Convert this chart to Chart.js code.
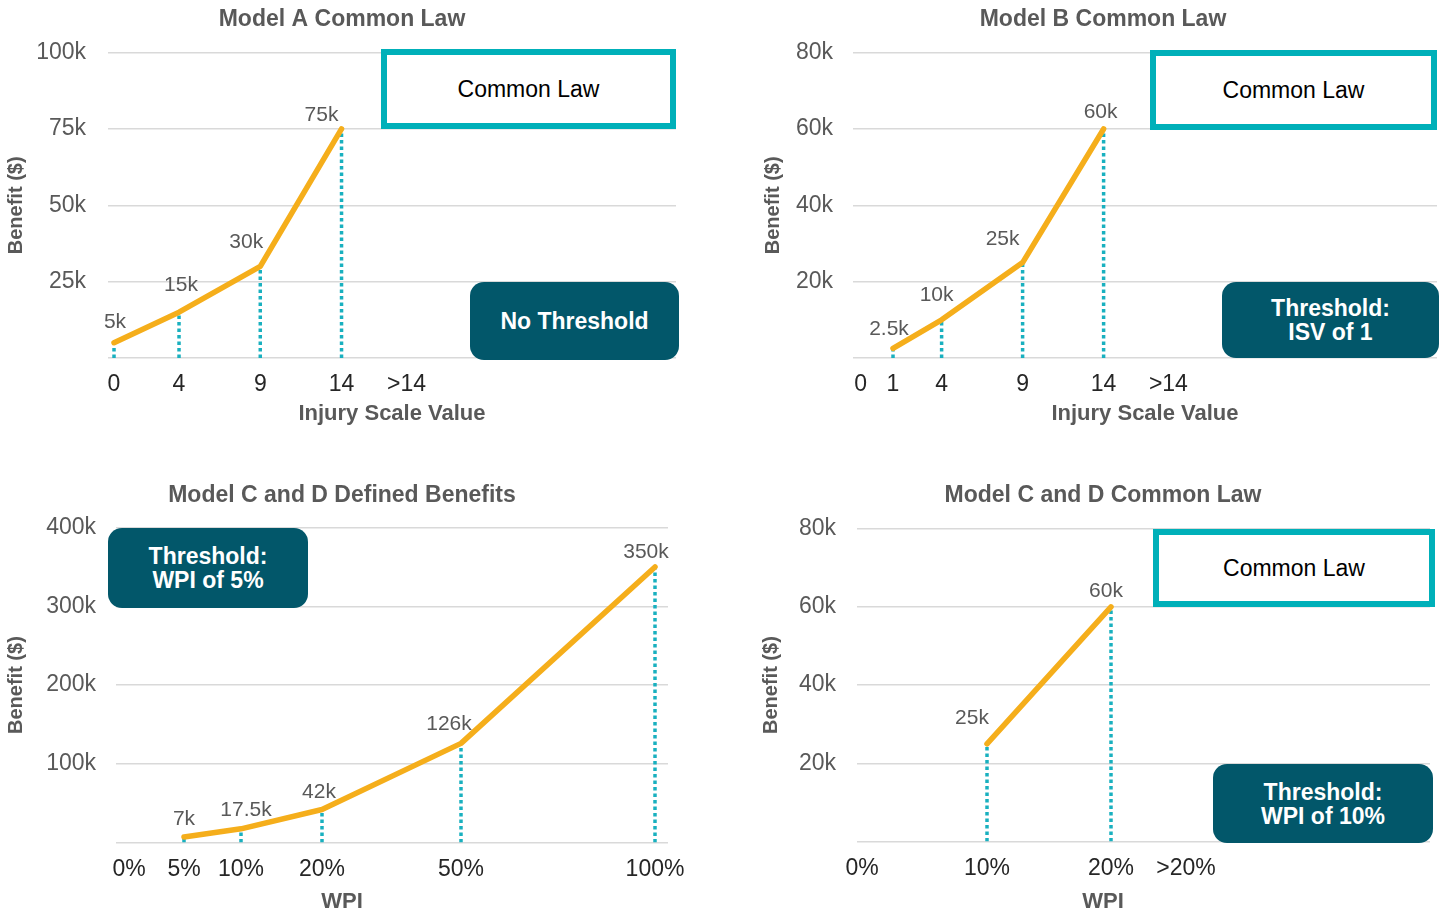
<!DOCTYPE html>
<html>
<head>
<meta charset="utf-8">
<title>Benefit models</title>
<script src="https://cdn.jsdelivr.net/npm/chart.js@4.4.1/dist/chart.umd.min.js"></script>
<style>
  body { margin: 0; background: #fff; font-family: 'Liberation Sans', Arial, sans-serif; }
  #page { position: relative; width: 1445px; height: 915px; overflow: hidden; }
  #page canvas { position: absolute; }
  .law {
    position: absolute; box-sizing: border-box; border: 6px solid #00b0b9; background: #fff;
    color: #000; font-size: 23px; display: flex; align-items: center; justify-content: center;
  }
  .thr {
    position: absolute; box-sizing: border-box; background: #02576a; color: #fff;
    font-weight: bold; font-size: 23px; line-height: 24px; border-radius: 14px;
    display: flex; align-items: center; justify-content: center; text-align: center;
  }
</style>
</head>
<body>
<div id="page">
  <canvas id="chartA" width="684" height="440" style="left:0px;top:0px"></canvas>
  <canvas id="chartB" width="684" height="440" style="left:761px;top:0px"></canvas>
  <canvas id="chartC" width="700" height="445" style="left:0px;top:470px"></canvas>
  <canvas id="chartD" width="685" height="445" style="left:760px;top:470px"></canvas>

  <div class="law" style="left:381px;top:49px;width:295px;height:80px">Common Law</div>
  <div class="thr" style="left:470px;top:282px;width:209px;height:78px">No Threshold</div>
  <div class="law" style="left:1150px;top:50px;width:287px;height:80px">Common Law</div>
  <div class="thr" style="left:1222px;top:282px;width:217px;height:76px">Threshold:<br>ISV of 1</div>
  <div class="thr" style="left:108px;top:528px;width:200px;height:80px">Threshold:<br>WPI of 5%</div>
  <div class="law" style="left:1153px;top:529px;width:282px;height:78px">Common Law</div>
  <div class="thr" style="left:1213px;top:764px;width:220px;height:79px">Threshold:<br>WPI of 10%</div>
</div>

<script>
// Model A common law: benefit by injury scale value
const aLabels = ['0', '4', '9', '14', '>14'];
const aBenefit = [5000, 15000, 30000, 75000, null];

// Model B common law
const bLabels = ['0', '1', '4', '9', '14', '>14'];
const bBenefit = [null, 2500, 10000, 25000, 60000, null];

// Model C and D defined benefits, by WPI
const cLabels = ['0%', '5%', '10%', '20%', '50%', '100%'];
const cBenefit = [null, 7000, 17500, 42000, 126000, 350000];

// Model C and D common law
const dLabels = ['0%', '10%', '20%', '>20%'];
const dBenefit = [null, 25000, 60000, null];

const FONT = "'Liberation Sans', Arial, sans-serif";
const GREY = '#595959';
const ORANGE = '#f5ae1b';
const CYAN = '#19b0bf';

// small "5k" style labels over each point
const pointLabels = {
  id: 'pointLabels',
  afterDatasetsDraw(chart, args, opts) {
    const ctx = chart.ctx;
    const meta = chart.getDatasetMeta(0);
    const ds = chart.data.datasets[0];
    ctx.save();
    ctx.font = '21px ' + FONT;
    ctx.fillStyle = GREY;
    ctx.textAlign = 'center';
    ctx.textBaseline = 'middle';
    meta.data.forEach(function (pt, i) {
      const shift = opts.shift[i] || [0, -20];
      const v = ds.data[i].y;
      ctx.fillText(v / 1000 + 'k', pt.x + shift[0], pt.y + shift[1]);
    });
    ctx.restore();
  }
};

function makePanel(p) {
  const line = [];
  const drops = [];
  p.values.forEach(function (v, i) {
    if (v === null) return;
    line.push({ x: p.xAt[i], y: v });
    drops.push({
      data: [{ x: p.xAt[i], y: 0 }, { x: p.xAt[i], y: v }],
      borderColor: CYAN,
      borderWidth: 3.5,
      borderDash: [3.5, 3],
      pointRadius: 0
    });
  });

  const datasets = [{
    data: line,
    borderColor: ORANGE,
    borderWidth: 5.5,
    borderCapStyle: 'round',
    borderJoinStyle: 'round',
    pointRadius: 0,
    clip: false
  }].concat(drops);

  new Chart(document.getElementById(p.id), {
    type: 'line',
    data: { datasets: datasets },
    options: {
      responsive: false,
      animation: false,
      layout: { padding: { left: p.padLeft, right: p.padRight, top: 0, bottom: 0 } },
      plugins: {
        legend: { display: false },
        tooltip: { enabled: false },
        title: {
          display: true,
          text: p.title,
          color: GREY,
          font: { family: FONT, size: 23, weight: 'bold' },
          padding: p.titlePad
        },
        subtitle: {
          display: p.xTitleBelow,
          position: 'bottom',
          text: p.xTitle,
          color: GREY,
          font: { family: FONT, size: 22, weight: 'bold' },
          padding: { top: 4, bottom: 0 }
        },
        pointLabels: { shift: p.shift }
      },
      scales: {
        x: {
          type: 'linear',
          min: p.xMin,
          max: p.xMax,
          afterBuildTicks: function (s) {
            s.ticks = p.xAt.map(function (v) { return { value: v }; });
          },
          afterFit: function (s) {
            s.height = p.xHeight;
            s.paddingLeft = 0;
            s.paddingRight = 0;
          },
          ticks: {
            autoSkip: false,
            maxRotation: 0,
            color: '#262626',
            font: { family: FONT, size: 23 },
            padding: 5,
            callback: function (v, i) { return p.labels[i]; }
          },
          grid: { display: false },
          border: { display: false },
          title: {
            display: !p.xTitleBelow,
            text: p.xTitle,
            color: GREY,
            font: { family: FONT, size: 22, weight: 'bold' },
            padding: { top: 0, bottom: 13 }
          }
        },
        y: {
          min: 0,
          max: p.yMax,
          afterFit: function (s) {
            s.width = p.yWidth;
            s.paddingTop = 0;
            s.paddingBottom = 0;
          },
          ticks: {
            stepSize: p.yStep,
            color: GREY,
            font: { family: FONT, size: 23 },
            padding: p.yTickPad,
            callback: function (v) { return v === 0 ? '' : v / 1000 + 'k'; }
          },
          grid: { color: '#d9d9d9', lineWidth: 1.5, drawTicks: false },
          border: { display: false },
          title: {
            display: true,
            text: 'Benefit ($)',
            color: GREY,
            font: { family: FONT, size: 20, weight: 'bold' },
            padding: { top: p.yTitlePad, bottom: 0 }
          }
        }
      }
    },
    plugins: [pointLabels]
  });
}

makePanel({
  id: 'chartA', title: 'Model A Common Law', xTitle: 'Injury Scale Value', xTitleBelow: false,
  labels: aLabels, values: aBenefit, xAt: [0, 4, 9, 14, 18], xMin: -0.37, xMax: 34.58,
  yMax: 100000, yStep: 25000, yWidth: 100, yTickPad: 22, yTitlePad: -4,
  padLeft: 8, padRight: 8, titlePad: { top: 6, bottom: 19 }, xHeight: 82,
  shift: [[1, -21], [2, -27], [-14, -24], [-20, -14]]
});

makePanel({
  id: 'chartB', title: 'Model B Common Law', xTitle: 'Injury Scale Value', xTitleBelow: false,
  labels: bLabels, values: bBenefit, xAt: [-1, 1, 4, 9, 14, 18], xMin: -1.47, xMax: 34.58,
  yMax: 80000, yStep: 20000, yWidth: 84, yTickPad: 20, yTitlePad: -8,
  padLeft: 8, padRight: 8, titlePad: { top: 6, bottom: 19 }, xHeight: 82,
  shift: [[-4, -19], [-5, -25], [-20, -23], [-3, -17]]
});

makePanel({
  id: 'chartC', title: 'Model C and D Defined Benefits', xTitle: 'WPI', xTitleBelow: true,
  labels: cLabels, values: cBenefit, xAt: [0, 55, 112, 193, 332, 526], xMin: -13, xMax: 539,
  yMax: 400000, yStep: 100000, yWidth: 100, yTickPad: 20, yTitlePad: -12,
  padLeft: 16, padRight: 32, titlePad: { top: 12, bottom: 18 }, xHeight: 42,
  shift: [[0, -18], [5, -19], [-3, -17], [-12, -19], [-9, -15]]
});

makePanel({
  id: 'chartD', title: 'Model C and D Common Law', xTitle: 'WPI', xTitleBelow: true,
  labels: dLabels, values: dBenefit, xAt: [0, 125, 249, 324], xMin: -5, xMax: 568,
  yMax: 80000, yStep: 20000, yWidth: 81, yTickPad: 21, yTitlePad: -17,
  padLeft: 16, padRight: 15, titlePad: { top: 12, bottom: 19 }, xHeight: 43,
  shift: [[-15, -26], [-5, -16]]
});
</script>
</body>
</html>
